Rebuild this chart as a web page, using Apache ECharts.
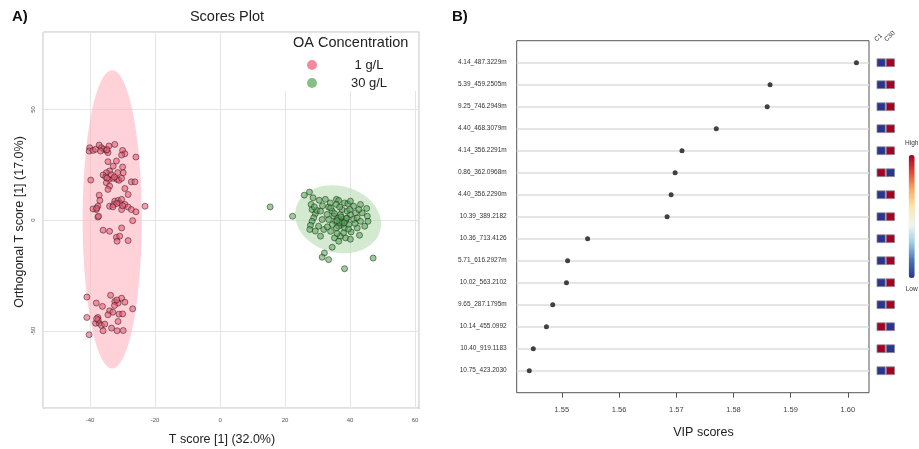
<!DOCTYPE html>
<html>
<head>
<meta charset="utf-8">
<script src="https://cdn.jsdelivr.net/npm/echarts@6/dist/echarts.min.js"></script>
<style>
html, body { margin: 0; padding: 0; background: #fff; }
#main { width: 919px; height: 449px; }
</style>
</head>
<body>
<div id="main"></div>
<script>
// A) scores plot: [T score, orthogonal T score]
var groups = ['1 g/L', '30 g/L'];
var lowScores = [
    [-40.1, 32.7], [-40.3, 31.2], [-39.1, 31.5], [-38.3, 32.0], [-37.2, 33.9], [-36.5, 32.7],
    [-35.8, 32.0], [-35.0, 31.5], [-34.5, 30.5], [-34.2, 33.5], [-32.4, 34.2], [-30.0, 31.5],
    [-29.3, 30.0], [-30.3, 29.4], [-25.9, 28.5], [-34.5, 26.4], [-31.9, 26.7], [-32.9, 24.4],
    [-30.0, 24.0], [-34.0, 22.2], [-35.0, 21.4], [-36.0, 20.4], [-35.2, 19.5], [-34.2, 18.4],
    [-32.9, 18.9], [-31.7, 18.4], [-31.1, 18.0], [-30.3, 18.9], [-29.8, 21.4], [-27.3, 17.3],
    [-26.2, 17.3], [-39.8, 18.1], [-35.0, 16.9], [-34.0, 15.4], [-34.5, 13.9], [-29.3, 14.3],
    [-28.3, 11.6], [-37.2, 11.3], [-37.0, 8.9], [-37.6, 6.3], [-38.1, 4.8], [-39.1, 5.1],
    [-37.6, 1.4], [-34.0, 6.3], [-32.4, 8.6], [-31.4, 8.9], [-30.9, 7.8], [-30.3, 9.4],
    [-29.3, 7.1], [-28.3, 5.9], [-27.3, 4.8], [-25.9, 3.8], [-23.1, 6.3], [-30.3, 4.8],
    [-26.9, -0.2], [-36.0, -4.5], [-34.0, -5.0], [-30.3, -3.5], [-31.9, -7.7], [-30.9, -7.2],
    [-28.3, -9.2], [-31.7, -9.5], [-38.0, 5.4], [-37.4, 1.8],
    [-33.5, 20.5], [-32.5, 19.5], [-34.8, 19.0], [-31.5, 21.5], [-32.8, 7.0], [-31.8, 7.5],
    [-33.0, 6.0], [-30.0, 6.5], [-34.8, 31.8], [-36.8, 31.2],
    [-41.0, -34.7], [-33.7, -33.9], [-32.4, -36.7], [-31.4, -37.4], [-30.3, -35.2], [-29.3, -37.0],
    [-38.1, -37.4], [-36.2, -38.9], [-26.9, -40.0], [-34.0, -40.9], [-34.5, -42.7], [-31.1, -42.4],
    [-30.0, -42.3], [-37.6, -43.9], [-41.0, -43.9], [-38.3, -46.5], [-37.2, -46.5], [-36.5, -47.5],
    [-35.5, -46.9], [-33.4, -48.7], [-31.4, -45.7], [-36.0, -49.9], [-31.7, -49.9], [-29.8, -49.8],
    [-40.3, -51.7], [-32.5, -38.5], [-31.8, -36.0], [-33.0, -41.5], [-37.5, -45.0], [-38.0, -44.5]
];
var highScores = [
    [15.4, 6.0], [22.3, 1.8], [25.9, 11.3], [27.5, 12.7], [28.6, 10.1], [28.0, 7.1], [28.3, 4.8],
    [29.3, 2.9], [28.8, 1.1], [28.3, -0.5], [27.8, -2.3], [27.6, -4.2], [29.3, -4.9], [31.9, -4.2],
    [31.4, 0.3], [29.8, 4.4], [30.9, 4.1], [33.4, 5.9], [33.9, 7.8], [35.8, 9.4], [36.5, 8.9],
    [38.3, 7.8], [39.3, 7.4], [41.1, 6.3], [43.2, 7.1], [45.1, 5.3], [43.7, 3.3], [45.3, 1.8],
    [45.5, -0.5], [44.5, -2.7], [42.2, -3.5], [40.3, -5.3], [42.9, -6.8], [38.6, -8.0], [40.1, -8.6],
    [37.0, -7.2], [35.2, -8.0], [34.5, -12.2], [32.1, -14.8], [31.4, -16.7], [33.4, -17.8],
    [38.3, -21.9], [47.1, -17.1],
    [35.8, 7.1], [34.5, 4.1], [35.0, 1.8], [35.5, -0.5], [36.2, 1.0], [37.0, 2.6], [37.9, 0.3],
    [38.6, -0.5], [39.1, 1.0], [37.5, -2.0], [36.5, -2.7], [38.3, -3.5], [39.6, -2.0], [35.8, -3.5],
    [34.5, -2.0], [33.4, 0.3], [32.9, 2.6], [40.1, 2.6], [41.1, 0.3], [39.1, 4.1], [37.5, 4.8],
    [36.8, 5.9], [39.9, 4.8], [41.7, 3.3], [42.2, 1.0], [43.2, -0.5], [34.0, -5.0], [30.9, -7.2],
    [30.3, -2.7], [32.4, 9.4], [40.1, 8.6], [42.7, 4.8], [38.0, -5.7], [36.5, -9.5],
    [37.5, -0.5], [36.8, -1.0], [38.8, 0.8], [37.2, 1.5], [36.0, -0.2], [38.2, -1.2], [35.2, 3.0],
    [34.0, 5.5], [31.5, 6.5], [30.5, 9.0], [39.5, -4.0], [41.5, -1.5], [36.0, -6.0], [33.0, -3.0],
    [29.0, 6.0]
];
// confidence ellipses: centre and two conjugate semi-axes, in score units
var lowEllipse = { center: [-33.2, 0.4], u: [9.1, 0], v: [0, 67.3] };
var highEllipse = { center: [36.3, 0.4], u: [12.95, -5.10], v: [-2.65, -14.5] };
var scoreXTicks = [-40, -20, 0, 20, 40, 60];
var scoreYTicks = [-50, 0, 50];

// B) VIP scores, top to bottom
var vipFeatures = [
    '4.14_487.3229m', '5.39_459.2505m', '9.25_746.2949m', '4.40_468.3079m', '4.14_356.2291m',
    '0.86_362.0968m', '4.40_356.2290m', '10.39_389.2182', '10.36_713.4126', '5.71_616.2927m',
    '10.02_563.2102', '9.65_287.1795m', '10.14_455.0992', '10.40_919.1183', '10.75_423.2030'
];
var vipScores = [1.6015, 1.5864, 1.5859, 1.5770, 1.5710, 1.5698, 1.5691, 1.5684,
    1.5545, 1.5510, 1.5508, 1.5484, 1.5473, 1.5450, 1.5443];
var vipTicks = [1.55, 1.56, 1.57, 1.58, 1.59, 1.60];
var heatColumns = ['C1', 'C30'];
var heatC1 = [0, 0, 0, 0, 0, 1, 0, 0, 0, 0, 0, 0, 1, 1, 0];
var heatC30 = [1, 1, 1, 1, 1, 0, 1, 1, 1, 1, 1, 1, 0, 0, 1];

var FONT = 'Liberation Sans';

function ellipseSeries(e, fill) {
    return {
        type: 'custom',
        xAxisIndex: 0,
        yAxisIndex: 0,
        z: 1,
        silent: true,
        data: [e.center],
        renderItem: function (params, api) {
            var pts = [];
            for (var i = 0; i < 160; i++) {
                var t = i / 160 * Math.PI * 2;
                pts.push(api.coord([
                    e.center[0] + e.u[0] * Math.cos(t) + e.v[0] * Math.sin(t),
                    e.center[1] + e.u[1] * Math.cos(t) + e.v[1] * Math.sin(t)
                ]));
            }
            return { type: 'polygon', shape: { points: pts }, style: { fill: fill } };
        }
    };
}

var heatData = [];
vipFeatures.forEach(function (f, i) {
    heatData.push([0, i, heatC1[i]]);
    heatData.push([1, i, heatC30[i]]);
});

// column headers of the small heatmap, slanted
var headerText = heatColumns.map(function (c, i) {
    return {
        type: 'text', z: 10, x: 878 + i * 10, y: 43, rotation: Math.PI / 4,
        style: { text: c, font: '6.5px "Liberation Sans"', fill: '#333', align: 'left', verticalAlign: 'bottom' }
    };
});

var chart = echarts.init(document.getElementById('main'));
var option = {
    animation: false,
    backgroundColor: '#fff',
    textStyle: { fontFamily: FONT },
    grid: [
        { left: 43.3, top: 32.3, width: 376, height: 376, show: true, borderColor: '#666', borderWidth: 1, outerBoundsMode: 'none' },
        { left: 516.7, top: 40.7, width: 352.3, height: 352, show: true, borderColor: '#555', borderWidth: 1, outerBoundsMode: 'none' },
        { left: 516.7, top: 62.7, width: 352.3, height: 308, outerBoundsMode: 'none' },
        { left: 876.5, top: 62.7, width: 18.5, height: 308, outerBoundsMode: 'none' }
    ],
    xAxis: [
        {
            gridIndex: 0, type: 'value', min: -54.4, max: 61.3, splitNumber: 6,
            axisLine: { show: false }, axisTick: { show: false },
            axisLabel: { customValues: scoreXTicks, fontSize: 6, color: '#555', margin: 9 },
            splitLine: { lineStyle: { color: '#e4e4e4', width: 1 } }
        },
        {
            gridIndex: 1, type: 'value', min: 1.5421, max: 1.6037,
            axisLine: { show: false },
            axisTick: { show: true, customValues: vipTicks, length: 5, lineStyle: { color: '#555' } },
            axisLabel: {
                customValues: vipTicks, fontSize: 7.5, color: '#444', margin: 13,
                formatter: function (v) { return v.toFixed(2); }
            },
            splitLine: { show: false }
        },
        { gridIndex: 2, type: 'value', min: 1.5421, max: 1.6037, show: false },
        {
            gridIndex: 3, type: 'category', data: heatColumns, position: 'top',
            axisLine: { show: false }, axisTick: { show: false }, axisLabel: { show: false }
        }
    ],
    yAxis: [
        {
            gridIndex: 0, type: 'value', min: -84.9, max: 84.8, splitNumber: 3,
            axisLine: { show: false }, axisTick: { show: false },
            axisLabel: { customValues: scoreYTicks, rotate: 90, fontSize: 6, color: '#555', margin: 7 },
            splitLine: { lineStyle: { color: '#e4e4e4', width: 1 } }
        },
        { gridIndex: 1, type: 'value', show: false },
        {
            gridIndex: 2, type: 'category', data: vipFeatures, inverse: true, boundaryGap: false,
            axisLine: { show: false }, axisTick: { show: false },
            axisLabel: { fontSize: 6.5, color: '#333', margin: 10 },
            splitLine: { show: true, lineStyle: { color: '#dcdcdc', width: 1.5 } }
        },
        {
            gridIndex: 3, type: 'category', data: vipFeatures, inverse: true, boundaryGap: false,
            show: false
        }
    ],
    legend: {
        data: [
            { name: groups[0], itemStyle: { color: '#f38a9c' } },
            { name: groups[1], itemStyle: { color: '#86bf86' } }
        ],
        orient: 'vertical', left: 302, top: 53.5,
        icon: 'circle', itemWidth: 10, itemHeight: 10, itemGap: 5,
        itemStyle: { borderWidth: 0 },
        selectedMode: false,
        formatter: function (name) { return '{t|' + name + '}'; },
        textStyle: {
            fontFamily: FONT, fontSize: 13, color: '#222', lineHeight: 13,
            rich: { t: { width: 94, align: 'center', fontSize: 13, fontFamily: FONT, color: '#222' } }
        }
    },
    visualMap: {
        type: 'continuous', seriesIndex: 5, dimension: 2, min: 0, max: 1,
        calculable: false, orient: 'vertical', left: 905, top: 140,
        itemWidth: 6, itemHeight: 123, padding: 0, textGap: 8,
        text: ['High', 'Low'],
        textStyle: { fontSize: 6.5, color: '#333', fontFamily: FONT },
        inRange: { color: ['#2a3591', '#4575b4', '#9fcde3', '#eef6f2', '#fee8a8', '#fdae61', '#e34a33', '#a50026'] }
    },
    graphic: [
        { type: 'rect', z: 3, shape: { x: 283, y: 33, width: 135, height: 58 }, style: { fill: '#fff' }, silent: true },
        { type: 'text', z: 10, left: 12, top: 9, style: { text: 'A)', font: 'bold 15px "Liberation Sans"', fill: '#111' } },
        { type: 'text', z: 10, left: 452, top: 9, style: { text: 'B)', font: 'bold 15px "Liberation Sans"', fill: '#111' } },
        { type: 'text', z: 10, x: 227, y: 17, style: { text: 'Scores Plot', font: '14.5px "Liberation Sans"', fill: '#222', align: 'center', verticalAlign: 'middle' } },
        { type: 'text', z: 10, x: 293, y: 43, style: { text: 'OA Concentration', font: '14.5px "Liberation Sans"', fill: '#222', align: 'left', verticalAlign: 'middle' } },
        { type: 'text', z: 10, x: 222, y: 440, style: { text: 'T score [1] (32.0%)', font: '12.5px "Liberation Sans"', fill: '#222', align: 'center', verticalAlign: 'middle' } },
        { type: 'text', z: 10, x: 20, y: 222, rotation: Math.PI / 2, style: { text: 'Orthogonal T score [1] (17.0%)', font: '12.5px "Liberation Sans"', fill: '#222', align: 'center', verticalAlign: 'middle' } },
        { type: 'text', z: 10, x: 703.5, y: 433, style: { text: 'VIP scores', font: '12.5px "Liberation Sans"', fill: '#222', align: 'center', verticalAlign: 'middle' } }
    ].concat(headerText),
    series: [
        ellipseSeries(lowEllipse, 'rgba(255,180,193,0.6)'),
        ellipseSeries(highEllipse, 'rgba(183,220,177,0.6)'),
        {
            name: groups[0], type: 'scatter', xAxisIndex: 0, yAxisIndex: 0, z: 2,
            data: lowScores, symbolSize: 6,
            itemStyle: { color: 'rgba(238,92,120,0.6)', borderColor: 'rgba(30,20,20,0.85)', borderWidth: 0.6, opacity: 1 }
        },
        {
            name: groups[1], type: 'scatter', xAxisIndex: 0, yAxisIndex: 0, z: 2,
            data: highScores, symbolSize: 6,
            itemStyle: { color: 'rgba(92,170,92,0.6)', borderColor: 'rgba(20,30,20,0.85)', borderWidth: 0.6, opacity: 1 }
        },
        {
            name: 'VIP', type: 'scatter', xAxisIndex: 2, yAxisIndex: 2, z: 3,
            data: vipScores.map(function (v, i) { return [v, i]; }),
            symbolSize: 5, itemStyle: { color: '#404040', opacity: 1 }
        },
        {
            name: 'Abundance', type: 'scatter', xAxisIndex: 3, yAxisIndex: 3,
            data: heatData, symbol: 'rect', symbolSize: [8.3, 7.8],
            itemStyle: { borderColor: '#8a8a8a', borderWidth: 0.8, opacity: 1 }
        }
    ]
};
option && chart.setOption(option);
</script>
</body>
</html>
